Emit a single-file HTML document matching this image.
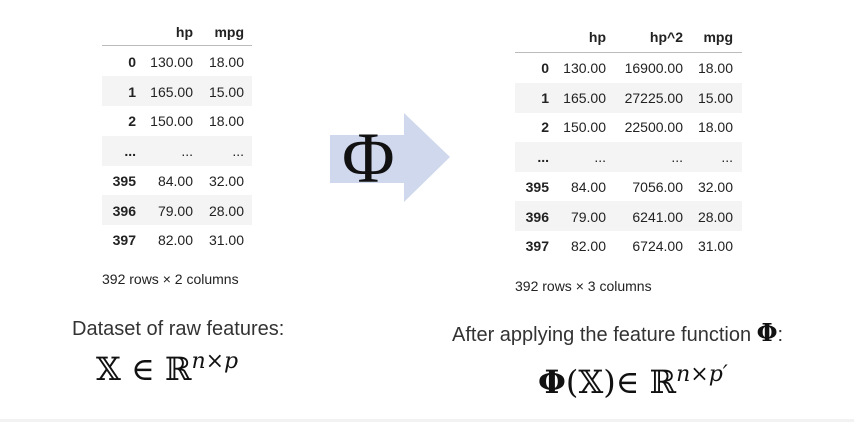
<!DOCTYPE html>
<html><head><meta charset="utf-8"><style>
body{margin:0;width:854px;height:422px;background:#fff;position:relative;overflow:hidden;font-family:"Liberation Sans",sans-serif;color:#222}
.a{position:absolute}
.c{position:absolute;font-size:14px;line-height:30px;text-align:right;white-space:nowrap}
.b{font-weight:bold}
.band{position:absolute;background:#f4f4f4}
.m{font-family:"DejaVu Serif","Liberation Serif",serif}
</style></head><body>
<!-- left table -->
<div class="band" style="left:102px;top:76px;width:150px;height:30px"></div>
<div class="band" style="left:102px;top:136px;width:150px;height:30px"></div>
<div class="band" style="left:102px;top:195px;width:150px;height:30px"></div>
<div class="a" style="left:102px;top:45px;width:150px;height:1px;background:#bbb"></div>
<div id="lt"></div>
<div class="a" style="left:102px;top:271px;font-size:14px">392 rows × 2 columns</div>
<!-- right table -->
<div class="band" style="left:515px;top:83px;width:227px;height:30px"></div>
<div class="band" style="left:515px;top:142px;width:227px;height:30px"></div>
<div class="band" style="left:515px;top:201px;width:227px;height:30px"></div>
<div class="a" style="left:515px;top:52px;width:227px;height:1px;background:#bbb"></div>
<div id="rt"></div>
<div class="a" style="left:515px;top:278px;font-size:14px">392 rows × 3 columns</div>
<!-- arrow -->
<svg class="a" style="left:0;top:0" width="854" height="422"><polygon points="330,135 404,135 404,113 450,157 404,202 404,183 330,183" fill="#cfd8ec"/></svg>
<div class="a" style="left:342px;top:118px;font-family:'Liberation Serif',serif;font-size:72px;line-height:80px;color:#111">Φ</div>
<!-- captions -->
<div class="a" style="left:72px;top:318px;font-size:20px;color:#333">Dataset of raw features:</div>
<div class="a m" style="left:96px;top:342px;font-size:32px;line-height:40px;color:#111">𝕏 ∈ ℝ<sup style="font-size:22px;font-style:italic;vertical-align:12px">n×p</sup></div>
<div class="a" style="left:452px;top:318px;font-size:20px;color:#333">After applying the feature function <span class="m" style="font-size:24px;font-weight:bold;color:#111">Φ</span>:</div>
<div class="a m" style="left:538px;top:355px;font-size:32px;line-height:40px;color:#111"><b>Φ</b>(𝕏)∈ ℝ<sup style="font-size:22px;font-style:italic;vertical-align:12px">n×p′</sup></div>
<div class="a" style="left:0;top:419px;width:854px;height:3px;background:#f2f2f2"></div>
<script>
function T(id,rows,cols,y0,hy,dy){let h='';
 rows.forEach((r,i)=>{let y=i==0?hy:y0+(i-1)*dy;
  r.forEach((t,j)=>{let bold=(i==0||j==0)?' b':'';
   h+=`<div class="c${bold}" style="right:${854-cols[j]}px;top:${y-15}px">${t}</div>`;});});
 document.getElementById(id).innerHTML=h;}
T('lt',[['','hp','mpg'],['0','130.00','18.00'],['1','165.00','15.00'],['2','150.00','18.00'],['...','...','...'],['395','84.00','32.00'],['396','79.00','28.00'],['397','82.00','31.00']],[136,193,244],62,32,29.7);
T('rt',[['','hp','hp^2','mpg'],['0','130.00','16900.00','18.00'],['1','165.00','27225.00','15.00'],['2','150.00','22500.00','18.00'],['...','...','...','...'],['395','84.00','7056.00','32.00'],['396','79.00','6241.00','28.00'],['397','82.00','6724.00','31.00']],[549,606,683,733],68,37,29.7);
</script>
</body></html>
